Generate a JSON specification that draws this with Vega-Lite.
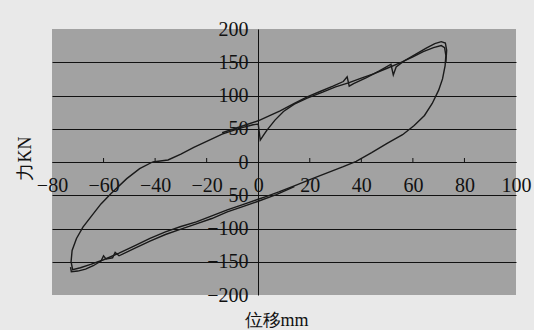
{
  "$schema": "https://vega.github.io/schema/vega-lite/v6.json",
  "width": 464,
  "height": 266,
  "autosize": {"type": "none"},
  "padding": {"left": 52, "top": 29, "right": 18, "bottom": 35},
  "background": "#e9e9e9",
  "view": {"fill": "#a2a2a2", "stroke": null},
  "config": {
    "font": "Liberation Serif",
    "axis": {
      "labelFont": "Liberation Serif",
      "labelFontSize": 20,
      "labelColor": "#111111",
      "titleFont": "Liberation Serif",
      "titleFontSize": 18,
      "titleFontWeight": "normal",
      "titleColor": "#111111",
      "domainColor": "#111111",
      "domainWidth": 1,
      "labelOverlap": false,
      "labelFlush": false
    }
  },
  "datasets": {
    "ticks": [
      {"x": -60}, {"x": -40}, {"x": -20}, {"x": 20}, {"x": 40}, {"x": 60}, {"x": 80}
    ],
    "curve": [
      {"s": "a", "i": 1, "x": -41, "y": 0},
      {"s": "a", "i": 2, "x": -35, "y": 3},
      {"s": "a", "i": 3, "x": -30, "y": 12},
      {"s": "a", "i": 4, "x": -25, "y": 22},
      {"s": "a", "i": 5, "x": -20, "y": 31},
      {"s": "a", "i": 6, "x": -14, "y": 42},
      {"s": "a", "i": 7, "x": -7, "y": 51},
      {"s": "a", "i": 8, "x": -2, "y": 56},
      {"s": "a", "i": 9, "x": 0, "y": 57},
      {"s": "a", "i": 10, "x": 0.8, "y": 33},
      {"s": "a", "i": 11, "x": 2, "y": 40},
      {"s": "a", "i": 12, "x": 3.4, "y": 48},
      {"s": "a", "i": 13, "x": 6.5, "y": 63},
      {"s": "a", "i": 14, "x": 9.8, "y": 76},
      {"s": "a", "i": 15, "x": 14, "y": 87},
      {"s": "a", "i": 16, "x": 19, "y": 96},
      {"s": "a", "i": 17, "x": 25, "y": 105},
      {"s": "a", "i": 18, "x": 30, "y": 113},
      {"s": "a", "i": 19, "x": 35, "y": 119},
      {"s": "a", "i": 20, "x": 40, "y": 126},
      {"s": "a", "i": 21, "x": 45, "y": 133},
      {"s": "a", "i": 22, "x": 50, "y": 141},
      {"s": "a", "i": 23, "x": 55, "y": 149},
      {"s": "a", "i": 24, "x": 60, "y": 158},
      {"s": "a", "i": 25, "x": 64, "y": 166},
      {"s": "a", "i": 26, "x": 68, "y": 172},
      {"s": "a", "i": 27, "x": 71, "y": 175},
      {"s": "a", "i": 28, "x": 72.3, "y": 172},
      {"s": "a", "i": 29, "x": 72.8, "y": 160},
      {"s": "a", "i": 30, "x": 72.5, "y": 145},
      {"s": "a", "i": 31, "x": 71.5, "y": 125},
      {"s": "a", "i": 32, "x": 70, "y": 108},
      {"s": "a", "i": 33, "x": 67.5, "y": 88},
      {"s": "a", "i": 34, "x": 64.5, "y": 70},
      {"s": "a", "i": 35, "x": 60.5, "y": 55},
      {"s": "a", "i": 36, "x": 56, "y": 41},
      {"s": "a", "i": 37, "x": 50, "y": 28},
      {"s": "a", "i": 38, "x": 44, "y": 14},
      {"s": "a", "i": 39, "x": 38, "y": 1},
      {"s": "a", "i": 40, "x": 33, "y": -7},
      {"s": "a", "i": 41, "x": 27, "y": -16},
      {"s": "a", "i": 42, "x": 21, "y": -25},
      {"s": "a", "i": 43, "x": 14, "y": -36},
      {"s": "a", "i": 44, "x": 8, "y": -45},
      {"s": "a", "i": 45, "x": 3, "y": -52},
      {"s": "a", "i": 46, "x": 0, "y": -56},
      {"s": "a", "i": 47, "x": -6, "y": -64},
      {"s": "a", "i": 48, "x": -12, "y": -72},
      {"s": "a", "i": 49, "x": -18, "y": -81},
      {"s": "a", "i": 50, "x": -24, "y": -90},
      {"s": "a", "i": 51, "x": -30, "y": -97},
      {"s": "a", "i": 52, "x": -36, "y": -105},
      {"s": "a", "i": 53, "x": -42, "y": -115},
      {"s": "a", "i": 54, "x": -48, "y": -126},
      {"s": "a", "i": 55, "x": -54, "y": -137},
      {"s": "a", "i": 56, "x": -60, "y": -147},
      {"s": "a", "i": 57, "x": -65, "y": -154},
      {"s": "a", "i": 58, "x": -69, "y": -159},
      {"s": "a", "i": 59, "x": -72, "y": -162},
      {"s": "a", "i": 60, "x": -72.6, "y": -150},
      {"s": "a", "i": 61, "x": -72.2, "y": -133},
      {"s": "a", "i": 62, "x": -70.5, "y": -115},
      {"s": "a", "i": 63, "x": -68, "y": -98},
      {"s": "a", "i": 64, "x": -65, "y": -83},
      {"s": "a", "i": 65, "x": -61, "y": -63},
      {"s": "a", "i": 66, "x": -57, "y": -47},
      {"s": "a", "i": 67, "x": -51, "y": -25},
      {"s": "a", "i": 68, "x": -46, "y": -10},
      {"s": "a", "i": 69, "x": -41, "y": 0},
      {"s": "b", "i": 1, "x": -14, "y": 44},
      {"s": "b", "i": 2, "x": -7, "y": 53},
      {"s": "b", "i": 3, "x": 0, "y": 62},
      {"s": "b", "i": 4, "x": 4, "y": 69},
      {"s": "b", "i": 5, "x": 8.5, "y": 77},
      {"s": "b", "i": 6, "x": 14, "y": 88},
      {"s": "b", "i": 7, "x": 19, "y": 98},
      {"s": "b", "i": 8, "x": 24, "y": 106},
      {"s": "b", "i": 9, "x": 29, "y": 114},
      {"s": "b", "i": 10, "x": 33, "y": 121},
      {"s": "b", "i": 11, "x": 34.5, "y": 128},
      {"s": "b", "i": 12, "x": 35.3, "y": 114},
      {"s": "b", "i": 13, "x": 37, "y": 118},
      {"s": "b", "i": 14, "x": 42, "y": 127},
      {"s": "b", "i": 15, "x": 47, "y": 137},
      {"s": "b", "i": 16, "x": 51.5, "y": 147},
      {"s": "b", "i": 17, "x": 52.4, "y": 131},
      {"s": "b", "i": 18, "x": 53.5, "y": 143},
      {"s": "b", "i": 19, "x": 57, "y": 153},
      {"s": "b", "i": 20, "x": 61, "y": 162},
      {"s": "b", "i": 21, "x": 65, "y": 171},
      {"s": "b", "i": 22, "x": 68.5, "y": 178},
      {"s": "b", "i": 23, "x": 71, "y": 181},
      {"s": "b", "i": 24, "x": 72.6, "y": 179},
      {"s": "b", "i": 25, "x": 73.1, "y": 168},
      {"s": "b", "i": 26, "x": 72.8, "y": 150},
      {"s": "c", "i": 0, "x": 14, "y": -37},
      {"s": "c", "i": 1, "x": 7, "y": -49},
      {"s": "c", "i": 2, "x": 0, "y": -59},
      {"s": "c", "i": 3, "x": -6, "y": -67},
      {"s": "c", "i": 4, "x": -12, "y": -75},
      {"s": "c", "i": 5, "x": -18, "y": -85},
      {"s": "c", "i": 6, "x": -24, "y": -93},
      {"s": "c", "i": 7, "x": -30, "y": -101},
      {"s": "c", "i": 8, "x": -36, "y": -109},
      {"s": "c", "i": 9, "x": -42, "y": -119},
      {"s": "c", "i": 10, "x": -48, "y": -130},
      {"s": "c", "i": 11, "x": -54, "y": -141},
      {"s": "c", "i": 12, "x": -55.5, "y": -136},
      {"s": "c", "i": 13, "x": -56.5, "y": -144},
      {"s": "c", "i": 14, "x": -59, "y": -146},
      {"s": "c", "i": 15, "x": -60, "y": -141},
      {"s": "c", "i": 16, "x": -61, "y": -149},
      {"s": "c", "i": 17, "x": -64, "y": -156},
      {"s": "c", "i": 18, "x": -67, "y": -161},
      {"s": "c", "i": 19, "x": -70, "y": -164},
      {"s": "c", "i": 20, "x": -72.5, "y": -165},
      {"s": "c", "i": 21, "x": -72.8, "y": -158}
    ]
  },
  "layer": [
    {
      "data": {"name": "ticks"},
      "mark": {"type": "rule", "color": "#111111", "strokeWidth": 1},
      "encoding": {
        "x": {"field": "x", "type": "quantitative"},
        "y": {"datum": 0, "type": "quantitative"},
        "y2": {"datum": 6}
      }
    },
    {
      "data": {"name": "curve"},
      "mark": {"type": "line", "color": "#1a1a1a", "strokeWidth": 1.4, "clip": true},
      "encoding": {
        "x": {"field": "x", "type": "quantitative"},
        "y": {"field": "y", "type": "quantitative"},
        "detail": {"field": "s", "type": "nominal"},
        "order": {"field": "i", "type": "quantitative"}
      }
    }
  ],
  "encoding": {
    "x": {
      "type": "quantitative",
      "scale": {"domain": [-80, 100], "nice": false, "zero": false},
      "axis": {
        "title": "位移mm",
        "orient": "bottom",
        "offset": -133,
        "values": [-80, -60, -40, -20, 0, 20, 40, 60, 80, 100],
        "grid": false,
        "ticks": false,
        "labelPadding": 13,
        "labelBaseline": "top",
        "titleX": 224,
        "titleY": 158,
        "titleAlign": "center",
        "titleBaseline": "middle",
        "titleAnchor": null
      }
    },
    "y": {
      "type": "quantitative",
      "scale": {"domain": [-200, 200], "nice": false, "zero": false},
      "axis": {
        "title": "力KN",
        "orient": "left",
        "offset": -206,
        "values": [-200, -150, -100, -50, 0, 50, 100, 150, 200],
        "ticks": false,
        "labelPadding": 10,
        "labelBaseline": "middle",
        "grid": true,
        "gridColor": "#111111",
        "gridWidth": 1,
        "gridOpacity": {"condition": {"test": "abs(datum.value) == 200", "value": 0}, "value": 1},
        "titleX": -233,
        "titleY": 129,
        "titleAngle": 270,
        "titleAlign": "center",
        "titleBaseline": "middle",
        "titleAnchor": null
      }
    }
  }
}
